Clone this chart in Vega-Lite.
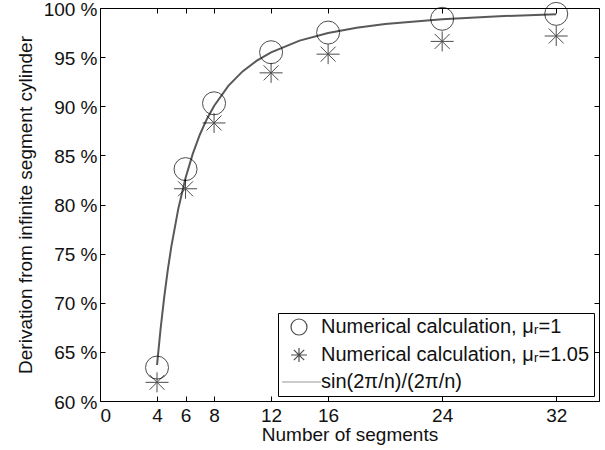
{
  "$schema": "https://vega.github.io/schema/vega-lite/v6.json",
  "width": 499,
  "height": 393,
  "autosize": "none",
  "padding": {"left": 100, "top": 8, "right": 6, "bottom": 49},
  "config": {
    "font": "Liberation Sans",
    "view": {"stroke": "black", "strokeWidth": 1},
    "axis": {
      "grid": false,
      "domain": false,
      "tickColor": "black",
      "tickSize": -5,
      "labelColor": "#111111",
      "titleColor": "#111111",
      "labelFontSize": 19,
      "titleFontSize": 19,
      "titleFontWeight": "normal",
      "labelFont": "Liberation Sans",
      "titleFont": "Liberation Sans"
    }
  },
  "datasets": {
    "points": [
      {"n": 4, "v": 63.4, "series": "Numerical calculation, μᵣ=1"},
      {"n": 6, "v": 83.6, "series": "Numerical calculation, μᵣ=1"},
      {"n": 8, "v": 90.3, "series": "Numerical calculation, μᵣ=1"},
      {"n": 12, "v": 95.5, "series": "Numerical calculation, μᵣ=1"},
      {"n": 16, "v": 97.5, "series": "Numerical calculation, μᵣ=1"},
      {"n": 24, "v": 98.9, "series": "Numerical calculation, μᵣ=1"},
      {"n": 32, "v": 99.4, "series": "Numerical calculation, μᵣ=1"},
      {"n": 4, "v": 61.9, "series": "Numerical calculation, μᵣ=1.05"},
      {"n": 6, "v": 81.6, "series": "Numerical calculation, μᵣ=1.05"},
      {"n": 8, "v": 88.3, "series": "Numerical calculation, μᵣ=1.05"},
      {"n": 12, "v": 93.4, "series": "Numerical calculation, μᵣ=1.05"},
      {"n": 16, "v": 95.3, "series": "Numerical calculation, μᵣ=1.05"},
      {"n": 24, "v": 96.6, "series": "Numerical calculation, μᵣ=1.05"},
      {"n": 32, "v": 97.15, "series": "Numerical calculation, μᵣ=1.05"}
    ],
    "curve": [
      {"n": 4, "v": 63.662},
      {"n": 4.25, "v": 67.352},
      {"n": 4.5, "v": 70.532},
      {"n": 4.75, "v": 73.286},
      {"n": 5, "v": 75.683},
      {"n": 5.5, "v": 79.625},
      {"n": 6, "v": 82.699},
      {"n": 6.5, "v": 85.13},
      {"n": 7, "v": 87.102},
      {"n": 7.5, "v": 88.71},
      {"n": 8, "v": 90.032},
      {"n": 9, "v": 92.073},
      {"n": 10, "v": 93.549},
      {"n": 11, "v": 94.64},
      {"n": 12, "v": 95.493},
      {"n": 14, "v": 96.676},
      {"n": 16, "v": 97.450},
      {"n": 18, "v": 97.98},
      {"n": 20, "v": 98.363},
      {"n": 24, "v": 98.862},
      {"n": 28, "v": 99.163},
      {"n": 32, "v": 99.359}
    ]
  },
  "layer": [
    {
      "data": {"name": "curve"},
      "mark": {"type": "line", "color": "#595959", "strokeWidth": 2},
      "encoding": {
        "x": {"field": "n", "type": "quantitative", "scale": {"domain": [0, 35], "nice": false},
              "axis": {"orient": "top", "labels": false, "title": null, "values": [0, 4, 6, 8, 12, 16, 24, 32]}},
        "y": {"field": "v", "type": "quantitative", "scale": {"domain": [60, 100], "nice": false},
              "axis": {"orient": "right", "labels": false, "title": null, "values": [60, 65, 70, 75, 80, 85, 90, 95, 100]}}
      }
    },
    {
      "data": {"name": "points"},
      "mark": {"type": "point", "filled": false, "size": 529, "strokeWidth": 1},
      "encoding": {
        "x": {"field": "n", "type": "quantitative", "scale": {"domain": [0, 35], "nice": false},
              "axis": {"orient": "bottom", "title": "Number of segments", "values": [0, 4, 6, 8, 12, 16, 24, 32], "labelPadding": 10, "titlePadding": 0}},
        "y": {"field": "v", "type": "quantitative", "scale": {"domain": [60, 100], "nice": false},
              "axis": {"orient": "left", "title": "Derivation from infinite segment cylinder", "values": [60, 65, 70, 75, 80, 85, 90, 95, 100], "labelExpr": "datum.value + ' %'", "labelPadding": 8, "labelOffset": 1, "titlePadding": 8}},
        "shape": {
          "field": "series", "type": "nominal",
          "scale": {
            "domain": ["Numerical calculation, μᵣ=1", "Numerical calculation, μᵣ=1.05", "sin(2π/n)/(2π/n)"],
            "range": ["circle", "M-1,0L1,0M0,-0.87L0,0.87M-0.65,-0.65L0.65,0.65M-0.65,0.65L0.65,-0.65", "M-2.125,0L2.75,0"]
          },
          "legend": {
            "title": null,
            "orient": "bottom-right",
            "offset": 5,
            "strokeColor": "black",
            "fillColor": "white",
            "padding": 4,
            "labelFontSize": 20,
            "labelColor": "#111111",
            "labelFont": "Liberation Sans",
            "labelLimit": 400,
            "labelOffset": 12,
            "rowPadding": 7,
            "symbolSize": 256,
            "symbolStrokeWidth": 1.2,
            "symbolOffset": 7
          }
        },
        "color": {
          "field": "series", "type": "nominal",
          "scale": {
            "domain": ["Numerical calculation, μᵣ=1", "Numerical calculation, μᵣ=1.05", "sin(2π/n)/(2π/n)"],
            "range": ["black", "black", "#6e6e6e"]
          }
        }
      }
    }
  ],
  "resolve": {"axis": {"x": "independent", "y": "independent"}}
}
